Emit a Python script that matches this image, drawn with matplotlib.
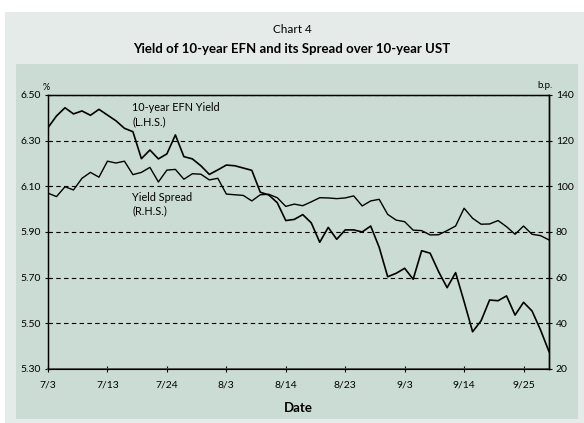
import matplotlib
matplotlib.use("Agg")
import matplotlib.pyplot as plt
import matplotlib.patches as mpatches

# ── Data (business-day index) ─────────────────────────────────────────────
efn_yield = [
    6.357, 6.408, 6.444, 6.417, 6.430, 6.411, 6.437, 6.412, 6.387, 6.354,
    6.339, 6.221, 6.259, 6.220, 6.242, 6.325, 6.230, 6.220, 6.190, 6.152,
    6.172, 6.193, 6.190, 6.180, 6.170, 6.074, 6.062, 6.028, 5.950, 5.955,
    5.976, 5.940, 5.855, 5.920, 5.868, 5.909, 5.909, 5.900, 5.926, 5.833,
    5.704, 5.719, 5.741, 5.693, 5.818, 5.807, 5.726, 5.656, 5.722, 5.595,
    5.463, 5.511, 5.602, 5.599, 5.620, 5.536, 5.592, 5.554, 5.471, 5.376,
]
yield_spread = [
    97.0, 95.5, 99.8, 98.4, 103.5, 106.1, 104.0, 111.0, 110.2, 111.0,
    105.1, 106.1, 108.3, 101.9, 107.1, 107.4, 103.1, 105.5, 105.3, 102.8,
    103.5, 96.6, 96.3, 96.0, 93.6, 96.3, 96.5, 95.0, 91.2, 92.2,
    91.5, 93.2, 95.0, 94.9, 94.6, 94.9, 95.8, 91.4, 93.6, 94.3,
    87.7, 85.2, 84.5, 80.8, 80.6, 78.7, 78.8, 80.6, 82.6, 90.4,
    86.0, 83.4, 83.5, 85.0, 82.3, 79.0, 82.6, 79.0, 78.4, 76.5,
]
tick_pos = [0, 7, 14, 21, 28, 35, 42, 49, 56]
tick_labels = ["7/3", "7/13", "7/24", "8/3", "8/14", "8/23", "9/3", "9/14", "9/25"]
left_ticks = [5.30, 5.50, 5.70, 5.90, 6.10, 6.30, 6.50]
right_ticks = [20, 40, 60, 80, 100, 120, 140]

OUTER_BG = "#e5ebe8"
INNER_BG = "#cbdcd5"
FONT = "Lato"

plt.rcParams.update({
    "font.family": [FONT, "DejaVu Sans"],
    "xtick.labelsize": 7.5,
    "ytick.labelsize": 7.5,
})

fig = plt.figure(figsize=(5.84, 4.23), dpi=100)
fig.patch.set_facecolor("white")

# background panels
fig.patches.append(mpatches.Rectangle((0.0086, 0.0), 0.9914, 0.9716,
                                      transform=fig.transFigure,
                                      facecolor=OUTER_BG, edgecolor="none", zorder=-2))
fig.patches.append(mpatches.Rectangle((0.0274, 0.0095), 0.9623, 0.8392,
                                      transform=fig.transFigure,
                                      facecolor=INNER_BG, edgecolor="none", zorder=-1))

fig.text(0.5, 0.931, "Chart 4", ha="center", va="center", fontsize=8.5)
fig.text(0.5, 0.884, "Yield of 10-year EFN and its Spread over 10-year UST",
         ha="center", va="center", fontsize=9.5, fontweight="bold")

ax = fig.add_axes([0.0822, 0.1277, 0.8579, 0.6478])
ax.set_facecolor("none")
x = list(range(len(efn_yield)))
ax.plot(x, efn_yield, color="black", linewidth=1.2, zorder=3)
ax.set_xlim(0, len(efn_yield) - 1)
ax.set_ylim(5.30, 6.50)
ax.set_yticks(left_ticks)
ax.set_yticklabels([f"{v:.2f}" for v in left_ticks])
ax.set_xticks(tick_pos)
ax.set_xticklabels(tick_labels)
ax.tick_params(axis="both", direction="inout", length=4, width=0.8, pad=3)
ax.tick_params(axis="x", pad=6)
ax.yaxis.grid(True, linestyle=(0, (4, 3)), color="black", linewidth=0.8)
ax.xaxis.grid(False)
for side in ["left", "top", "right"]:
    ax.spines[side].set_linewidth(1.0)
ax.spines["bottom"].set_color("#555555")
ax.spines["bottom"].set_linewidth(1.4)
ax.set_xlabel("Date", fontsize=9.5, fontweight="bold", labelpad=9)

ax2 = ax.twinx()
ax2.plot(x, yield_spread, color="black", linewidth=1.0, zorder=3)
ax2.set_ylim(20, 140)
ax2.set_yticks(right_ticks)
ax2.tick_params(axis="y", direction="inout", length=4, width=0.8, pad=3)
ax2.spines["right"].set_linewidth(1.0)

fig.text(46 / 584, 1 - 88 / 423, "%", ha="center", va="center", fontsize=6.5)
fig.text(545 / 584, 1 - 85 / 423, "b.p.", ha="center", va="center", fontsize=7)

ax.text(9.9, 6.447, "10-year EFN Yield", fontsize=7.8, ha="left", va="center")
ax.text(9.9, 6.383, "(L.H.S.)", fontsize=7.8, ha="left", va="center")
ax.text(9.9, 6.052, "Yield Spread", fontsize=7.8, ha="left", va="center")
ax.text(9.9, 5.992, "(R.H.S.)", fontsize=7.8, ha="left", va="center")

fig.savefig("out.png", dpi=100)
